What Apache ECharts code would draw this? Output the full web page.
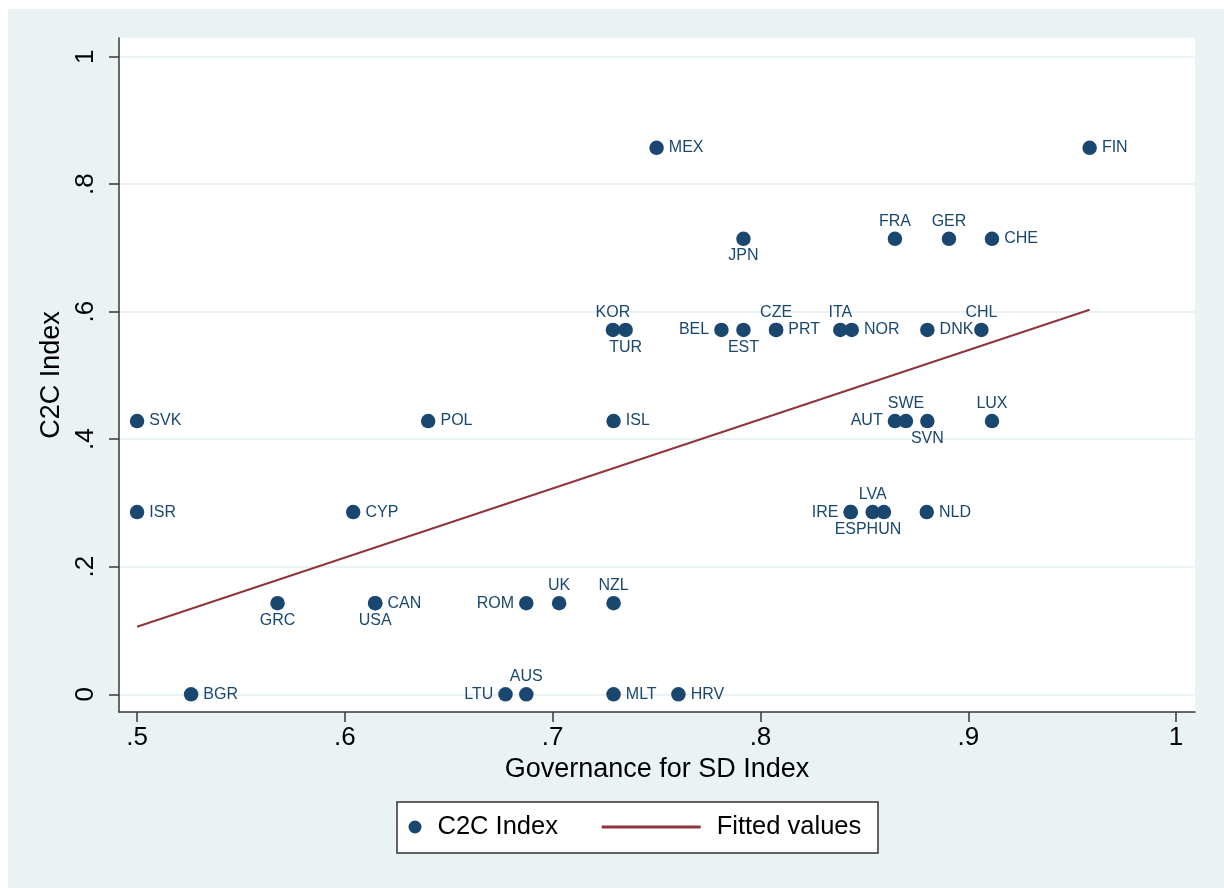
<!DOCTYPE html>
<html><head><meta charset="utf-8">
<script src="https://cdn.jsdelivr.net/npm/echarts@6/dist/echarts.min.js"></script>
<style>html,body{margin:0;padding:0;background:#fff}#c{width:1224px;height:888px}</style>
</head><body><div id="c"></div>
<script>
const countries = ['SVK','ISR','BGR','GRC','CYP','USA','CAN','POL','ROM','UK','NZL','LTU','AUS','MLT','HRV','ISL','MEX','JPN','KOR','TUR','BEL','EST','CZE','PRT','ITA','NOR','DNK','CHL','FRA','GER','CHE','FIN','AUT','SWE','SVN','LUX','IRE','ESP','LVA','HUN','NLD'];
const governance = [0.500,0.500,0.526,0.5676,0.604,0.6146,0.6146,0.6401,0.6873,0.7031,0.7293,0.6773,0.6873,0.7293,0.7605,0.7293,0.7500,0.7918,0.7290,0.7351,0.7812,0.7918,0.8075,0.8075,0.8384,0.8439,0.8803,0.9063,0.8647,0.8907,0.9114,0.9584,0.8647,0.8700,0.8803,0.9114,0.8434,0.8434,0.8540,0.8594,0.8800];
const c2c = [0.4286,0.2857,0,0.1429,0.2857,0.1429,0.1429,0.4286,0.1429,0.1429,0.1429,0,0,0,0,0.4286,0.8571,0.7143,0.5714,0.5714,0.5714,0.5714,0.5714,0.5714,0.5714,0.5714,0.5714,0.5714,0.7143,0.7143,0.7143,0.8571,0.4286,0.4286,0.4286,0.4286,0.2857,0.2857,0.2857,0.2857,0.2857];
const labelPlacement = ['right','right','right','bottom','right','bottom','right','right','left','top','top','left','top','right','right','right','right','bottom','top','bottom','left','bottom','top','right','top','right','right','top','top','top','right','right','left','top','bottom','top','left','bottom','top','bottom','right'];
const fittedX = [0.5, 0.9584];
const fittedY = [0.106, 0.603];
const xTicks = [0.5,0.6,0.7,0.8,0.9,1];
const yTicks = [0,0.2,0.4,0.6,0.8,1];

const FONT = '"Liberation Sans", Arial, sans-serif';
const NAVY = '#1a476f', MAROON = '#90353b', BG = '#eaf2f3', AX = '#3a3a3a';
const fmt = v => { const r = Math.round(v*10)/10; return r===0?'0':r===1?'1':String(r).replace(/^0\./,'.'); };

const chart = echarts.init(document.getElementById('c'), null, {renderer:'canvas'});
const scatterData = countries.map((c,i)=>({
  name:c, value:[governance[i], c2c[i]],
  label:{position: labelPlacement[i], distance: (labelPlacement[i]==='left'||labelPlacement[i]==='right')?5:2}
}));
const axisCommon = {
  axisLine:{show:true, onZero:false, lineStyle:{color:AX, width:1.5}},
  axisTick:{show:true, inside:false, length:10, lineStyle:{color:AX, width:1.5}},
  nameLocation:'middle',
  nameTextStyle:{fontSize:27, color:'#000', fontFamily:FONT}
};
chart.setOption({
  backgroundColor:'#fff',
  animation:false,
  graphic:[
    {type:'rect', z:-100, shape:{x:8,y:9,width:1216,height:879}, style:{fill:BG}},
    {type:'rect', z:-50, shape:{x:397,y:802,width:481,height:51}, style:{fill:'#fff', stroke:'#333', lineWidth:1.5}}
  ],
  grid:{left:119, top:38, width:1076, height:674, show:true, backgroundColor:'#fff', borderWidth:0, containLabel:false, outerBoundsMode:'none'},
  xAxis:Object.assign({}, axisCommon, {
    type:'value', min:0.4913, max:1.0091,
    name:'Governance for SD Index', nameGap:43,
    axisTick:Object.assign({}, axisCommon.axisTick, {customValues:xTicks}),
    axisLabel:{customValues:xTicks, formatter:fmt, fontSize:26, color:'#000', fontFamily:FONT, margin:13},
    splitLine:{show:false}
  }),
  yAxis:Object.assign({}, axisCommon, {
    type:'value', min:-0.0278, max:1.0293,
    name:'C2C Index', nameGap:50, nameRotate:90,
    axisTick:Object.assign({}, axisCommon.axisTick, {customValues:yTicks}),
    axisLabel:{customValues:yTicks, formatter:fmt, fontSize:26, color:'#000', fontFamily:FONT, rotate:90, margin:20},
    splitLine:{show:true, lineStyle:{color:BG, width:2}}
  }),
  legend:[
    {data:[{name:'C2C Index', icon:'circle'}], selectedMode:false, left:408.5, top:814, padding:0,
     itemWidth:13, itemHeight:13, textStyle:{fontSize:25.5, color:'#000', fontFamily:FONT, padding:[0,0,0,11]}},
    {data:[{name:'Fitted values', icon:'rect'}], selectedMode:false, left:601.7, top:814, padding:0,
     itemWidth:99, itemHeight:3, textStyle:{fontSize:25.5, color:'#000', fontFamily:FONT, padding:[0,0,0,11]}}
  ],
  series:[
    {name:'C2C Index', type:'scatter', symbol:'circle', symbolSize:14.5, color:NAVY,
     itemStyle:{color:NAVY, opacity:1},
     label:{show:true, formatter:'{b}', fontSize:16, color:NAVY, fontFamily:FONT},
     data:scatterData, z:3},
    {name:'Fitted values', type:'line', symbol:'none', color:MAROON,
     lineStyle:{color:MAROON, width:2}, itemStyle:{color:MAROON},
     data:fittedX.map((x,i)=>[x, fittedY[i]]), z:2}
  ]
});
</script></body></html>
